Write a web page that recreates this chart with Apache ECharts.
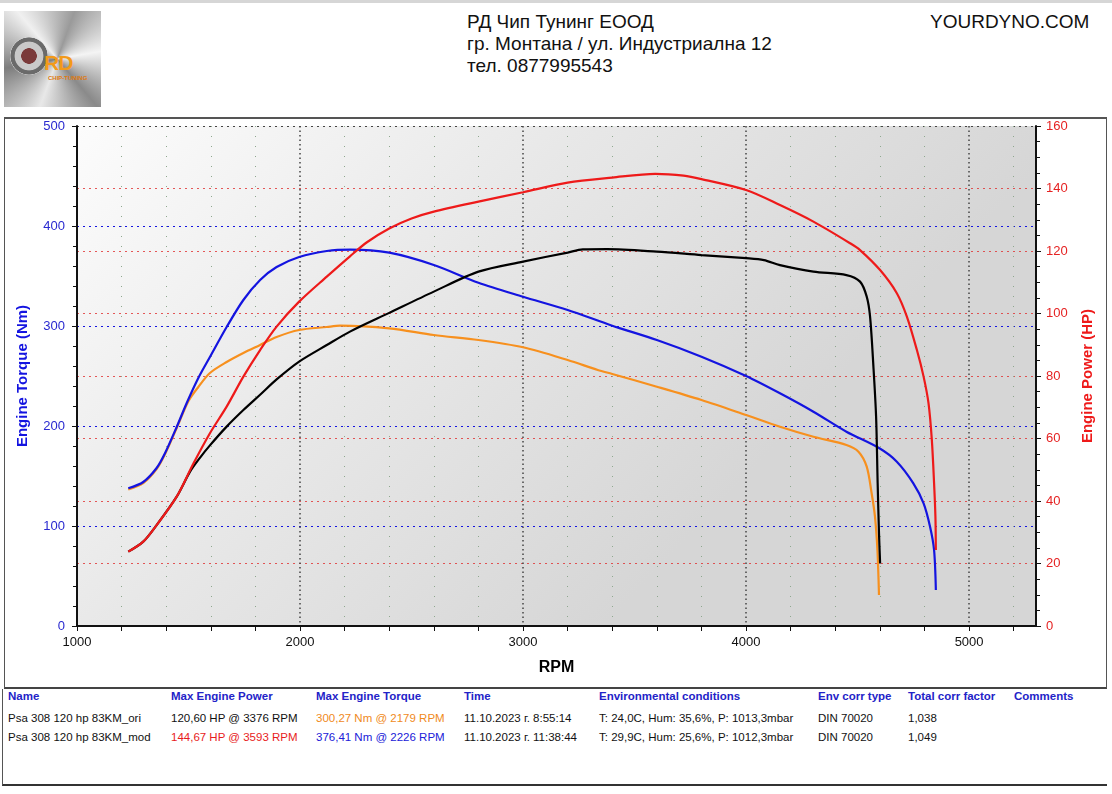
<!DOCTYPE html>
<html>
<head>
<meta charset="utf-8">
<script src="https://cdn.jsdelivr.net/npm/echarts@6/dist/echarts.min.js"></script>
<style>
  body { margin: 0; width: 1112px; height: 794px; background: #fff; font-family: "Liberation Sans", Arial, sans-serif; position: relative; overflow: hidden; }
  .topbar { position: absolute; left: 0; top: 0; width: 1112px; height: 3px; background: #d6d6d6; }
  .logo { position: absolute; left: 4px; top: 11px; width: 97px; height: 96px;
    background: conic-gradient(from 20deg at 55% 50%, #9a9a9a, #f4f4f4, #8a8a8a, #e8e8e8, #7d7d7d, #f0f0f0, #9a9a9a); }
  .logo .turbo { position: absolute; left: 6px; top: 26px; width: 38px; height: 38px; border-radius: 50%;
    background: radial-gradient(circle, #7a3a3a 0 28%, #c9c9c9 30% 52%, #6a6a6a 55% 68%, #d8d8d8 70%); }
  .logo .rd { position: absolute; left: 40px; top: 40px; font: bold 21px "Liberation Sans", sans-serif; color: #f29a1a; letter-spacing: -1px; }
  .logo .ct { position: absolute; left: 44px; top: 64px; font: bold 6px "Liberation Sans", sans-serif; color: #e07a10; }
  .hdr { position: absolute; left: 467px; font-size: 19px; color: #111; }
  .brand { position: absolute; left: 930px; top: 11px; font-size: 19px; color: #111; }
  #chart { position: absolute; left: 4px; top: 117px; width: 1103px; height: 572px; box-sizing: border-box; border: 1px solid #555; border-top-width: 2px; border-bottom: 2px solid #444; }
  #table { position: absolute; left: 2px; top: 689px; width: 1105px; height: 97px; box-sizing: border-box; border-left: 1px solid #555; border-bottom: 2px solid #333; }
  .c { position: absolute; font-size: 11.5px; white-space: nowrap; color: #111; }
  .h { color: #2323c8; font-weight: bold; }
</style>
</head>
<body>
<div class="topbar"></div>
<div class="logo"><div class="turbo"></div><div class="rd">RD</div><div class="ct">CHIP-TUNING</div></div>
<div class="hdr" style="top:11px">РД Чип Тунинг ЕООД</div>
<div class="hdr" style="top:33px">гр. Монтана / ул. Индустриална 12</div>
<div class="hdr" style="top:55px">тел. 0877995543</div>
<div class="brand">YOURDYNO.COM</div>
<div id="chart"></div>
<div id="table"></div>
<script>
// tick labels / axes
const rpmMin = 1000, rpmMax = 5300;
const torqueMax = 500, powerMax = 160;

// Psa 308 120 hp 83KM_mod (tuned)
const modTorqueRpm = [1230, 1297, 1357, 1395, 1447, 1492, 1544, 1596, 1671, 1746, 1821, 1895, 1996, 2120, 2226, 2400, 2600, 2800, 3000, 3200, 3400, 3600, 3800, 4000, 4152, 4302, 4450, 4598, 4676, 4750, 4796, 4825, 4843, 4851];
const modTorque = [137.7, 144, 158, 173, 199, 223, 248, 269, 299, 326, 346, 359, 369, 375, 376.4, 373.3, 361, 343.3, 329.3, 316, 300.3, 286, 269.3, 250, 232.7, 214.3, 194.3, 177.7, 164.3, 142.7, 122.7, 99.3, 76, 36];
const modPowerRpm = [1230, 1297, 1357, 1447, 1522, 1596, 1671, 1746, 1821, 1895, 1996, 2120, 2224, 2300, 2400, 2500, 2600, 2800, 3000, 3200, 3400, 3593, 3720, 3800, 4000, 4152, 4302, 4466, 4511, 4601, 4676, 4721, 4766, 4796, 4818, 4833, 4843, 4849, 4851];
const modPower = [23.8, 27, 32.3, 41.4, 52, 61.7, 70.2, 79.8, 88.3, 95.8, 103.8, 111.8, 118.3, 122.8, 127.2, 130.4, 132.6, 135.8, 138.8, 141.9, 143.5, 144.67, 144.1, 143, 139.5, 134.7, 129.4, 122.5, 120.3, 113.9, 106.5, 99, 88.3, 79.8, 71.3, 59.5, 45.7, 35, 24.3];

// Psa 308 120 hp 83KM_ori (stock)
const oriTorqueRpm = [1230, 1297, 1357, 1395, 1447, 1500, 1544, 1596, 1671, 1746, 1821, 1895, 1996, 2120, 2179, 2400, 2600, 2800, 3000, 3200, 3335, 3400, 3600, 3800, 4000, 4152, 4302, 4450, 4504, 4541, 4563, 4578, 4589, 4596];
const oriTorque = [136.5, 143, 157, 172, 198, 225, 239, 253, 264, 273, 281, 289, 296, 299, 300.3, 297.7, 291, 286, 278.7, 266, 256, 252, 239.3, 226, 211, 199.3, 189.3, 181, 174.3, 159.3, 132.7, 109.3, 76, 31];
const oriPowerRpm = [1230, 1297, 1357, 1447, 1507, 1552, 1596, 1671, 1746, 1821, 1895, 1996, 2120, 2224, 2400, 2600, 2800, 3000, 3200, 3268, 3376, 3600, 3800, 4000, 4080, 4152, 4302, 4450, 4511, 4541, 4556, 4571, 4583, 4590, 4596, 4601];
const oriPower = [23.8, 27, 32.3, 41.4, 49.4, 53.9, 57.8, 63.8, 69.1, 74.0, 78.9, 84.6, 89.9, 94.2, 100.2, 107, 113.4, 116.6, 119.5, 120.5, 120.6, 119.8, 118.7, 117.7, 117.1, 115.5, 113.4, 112.3, 110.2, 105.4, 99, 83, 67, 45.7, 29.7, 20];

// summary table
const tableHeads = ['Name', 'Max Engine Power', 'Max Engine Torque', 'Time', 'Environmental conditions', 'Env corr type', 'Total corr factor', 'Comments'];
const tableCols = [7, 170, 315, 463, 598, 817, 907, 1013];
const tableRows = [
  ['Psa 308 120 hp 83KM_ori', '120,60 HP @ 3376 RPM', '300,27 Nm @ 2179 RPM', '11.10.2023 г. 8:55:14', 'T: 24,0C, Hum: 35,6%, P: 1013,3mbar', 'DIN 70020', '1,038'],
  ['Psa 308 120 hp 83KM_mod', '144,67 HP @ 3593 RPM', '376,41 Nm @ 2226 RPM', '11.10.2023 г. 11:38:44', 'T: 29,9C, Hum: 25,6%, P: 1012,3mbar', 'DIN 70020', '1,049']
];
const rowColors = [['#111', '#111', '#f08a1c'], ['#111', '#e81c1c', '#2020d8']];

const BLUE = '#1414e0', RED = '#ee1a1a', ORANGE = '#f7901e', BLACK = '#000';

const pairs = (xs, ys) => xs.map((x, i) => [x, ys[i]]);

// table
const tbl = document.getElementById('table');
let html = '';
tableHeads.forEach((t, i) => { html += `<div class="c h" style="left:${tableCols[i] - 2}px;top:1px">${t}</div>`; });
tableRows.forEach((row, r) => {
  row.forEach((t, i) => {
    const col = (rowColors[r][i]) || '#111';
    html += `<div class="c" style="left:${tableCols[i] - 2}px;top:${23 + r * 19}px;color:${col}">${t}</div>`;
  });
});
tbl.innerHTML = html;

const chart = echarts.init(document.getElementById('chart'));
const minorGreen = '#8ea88e';
const lineOpts = { type: 'line', smooth: 0.3, symbol: 'none', z: 5 };

chart.setOption({
  animation: false,
  textStyle: { fontFamily: 'Liberation Sans, Arial, sans-serif' },
  grid: {
    left: 72, top: 7, right: 70, bottom: 61, show: true, borderWidth: 0,
    backgroundColor: { type: 'linear', x: 0, y: 0, x2: 0.55, y2: 1,
      colorStops: [{ offset: 0, color: '#fcfcfc' }, { offset: 0.5, color: '#e8e8e8' }, { offset: 1, color: '#d6d6d6' }] }
  },
  xAxis: [{
    type: 'value', min: rpmMin, max: rpmMax, interval: 200,
    name: 'RPM', nameLocation: 'middle', nameGap: 34,
    nameTextStyle: { fontSize: 16, fontWeight: 'bold', color: '#000' },
    axisLine: { onZero: false, lineStyle: { color: '#111', width: 2 } },
    axisTick: { length: 5, lineStyle: { color: '#111' } },
    axisLabel: { margin: 10, fontSize: 13, color: '#111', showMaxLabel: false,
      formatter: v => (v % 1000 === 0 ? String(v) : '') },
    splitLine: { show: true, lineStyle: { type: [1, 9], width: 1,
      color: ['transparent', minorGreen, minorGreen, minorGreen, minorGreen] } }
  }, {
    type: 'value', min: rpmMin, max: rpmMax, interval: 1000, position: 'bottom',
    axisLine: { show: false }, axisTick: { show: false }, axisLabel: { show: false },
    splitLine: { show: true, lineStyle: { type: [1.5, 3], width: 1.5, color: '#444' } }
  }],
  yAxis: [{
    type: 'value', min: 0, max: torqueMax, interval: 100,
    name: 'Engine Torque (Nm)', nameLocation: 'middle', nameGap: 47, nameRotate: 90,
    nameTextStyle: { fontSize: 15, fontWeight: 'bold', color: BLUE },
    axisLine: { show: true, lineStyle: { color: '#111', width: 2 } },
    axisTick: { show: true, length: 5, lineStyle: { color: '#111' } },
    minorTick: { show: true, splitNumber: 5, length: 4, lineStyle: { color: '#111' } },
    axisLabel: { margin: 12, fontSize: 13, color: '#2a2ad0' },
    splitLine: { show: true, lineStyle: { type: [2, 4], width: 1,
      color: [BLUE, BLUE, BLUE, BLUE, BLUE, '#444'] } }
  }, {
    type: 'value', min: 0, max: powerMax, interval: 20, position: 'right',
    name: 'Engine Power (HP)', nameLocation: 'middle', nameGap: 44, nameRotate: 90,
    nameTextStyle: { fontSize: 15, fontWeight: 'bold', color: RED },
    axisLine: { show: true, lineStyle: { color: '#111', width: 2 } },
    axisTick: { show: true, length: 5, lineStyle: { color: '#111' } },
    minorTick: { show: true, splitNumber: 4, length: 4, lineStyle: { color: '#111' } },
    axisLabel: { margin: 10, fontSize: 13, color: '#e52222' },
    splitLine: { show: true, lineStyle: { type: [2, 4], width: 1, opacity: 0.8,
      color: ['#e03030', '#e03030', '#e03030', '#e03030', '#e03030', '#e03030', '#e03030', '#e03030', 'transparent'] } }
  }],
  series: [
    Object.assign({ name: 'Torque ori', yAxisIndex: 0, data: pairs(oriTorqueRpm, oriTorque),
      lineStyle: { color: ORANGE, width: 2.2 } }, lineOpts),
    Object.assign({ name: 'Torque mod', yAxisIndex: 0, data: pairs(modTorqueRpm, modTorque),
      lineStyle: { color: BLUE, width: 2.2 } }, lineOpts),
    Object.assign({ name: 'Power ori', yAxisIndex: 1, data: pairs(oriPowerRpm, oriPower),
      lineStyle: { color: BLACK, width: 2.2 } }, lineOpts),
    Object.assign({ name: 'Power mod', yAxisIndex: 1, data: pairs(modPowerRpm, modPower),
      lineStyle: { color: RED, width: 2.2 } }, lineOpts)
  ]
});
</script>
</body>
</html>
